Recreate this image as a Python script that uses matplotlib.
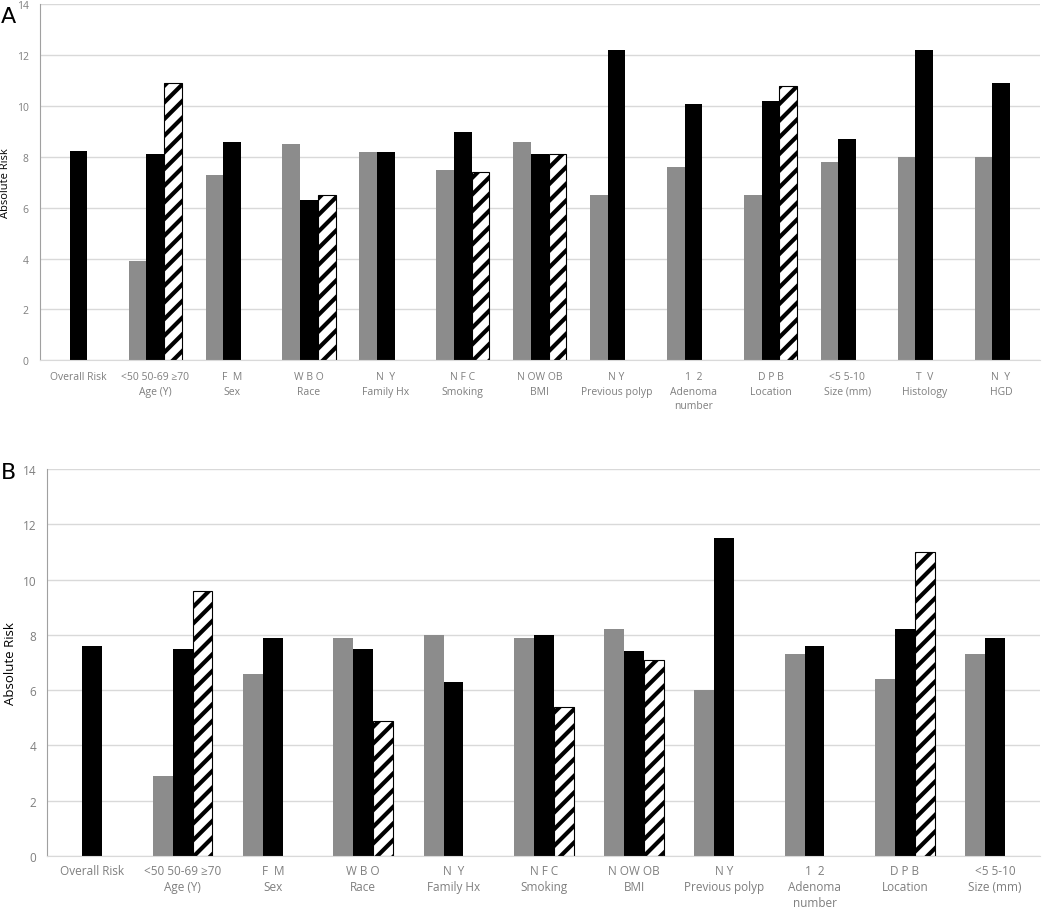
import matplotlib.pyplot as plt
import numpy as np

plt.rcParams['font.family'] = ['Open Sans', 'DejaVu Sans']
plt.rcParams['hatch.linewidth'] = 3.0

# --- Panel A data ---
cats_a = ["Overall Risk", "<50 50-69 ≥70\nAge (Y)", "F  M\nSex", "W B O\nRace",
          "N  Y\nFamily Hx", "N F C\nSmoking", "N OW OB\nBMI", "N Y\nPrevious polyp",
          "1  2\nAdenoma\nnumber", "D P B\nLocation", "<5 5-10\nSize (mm)",
          "T  V\nHistology", "N  Y\nHGD"]
gray_a = [np.nan, 3.9, 7.3, 8.5, 8.2, 7.5, 8.6, 6.5, 7.6, 6.5, 7.8, 8.0, 8.0]
black_a = [8.25, 8.1, 8.6, 6.3, 8.2, 9.0, 8.1, 12.2, 10.1, 10.2, 8.7, 12.2, 10.9]
hatch_a = [np.nan, 10.9, np.nan, 6.5, np.nan, 7.4, 8.1, np.nan, np.nan, 10.8, np.nan, np.nan, np.nan]

# --- Panel B data ---
cats_b = cats_a[:11]
gray_b = [np.nan, 2.9, 6.6, 7.9, 8.0, 7.9, 8.2, 6.0, 7.3, 6.4, 7.3]
black_b = [7.6, 7.5, 7.9, 7.5, 6.3, 8.0, 7.4, 11.5, 7.6, 8.2, 7.9]
hatch_b = [np.nan, 9.6, np.nan, 4.9, np.nan, 5.4, 7.1, np.nan, np.nan, 11.0, np.nan]

GRAY = "#8c8c8c"
TXT = "#7f7f7f"


def draw(ax, cats, gray, black, hatch, width, fs_tick, fs_lab, ls, pad):
    x = np.arange(len(cats))
    ax.bar(x - width, gray, width, color=GRAY)
    ax.bar(x, black, width, color="black")
    ax.bar(x + width, hatch, width, color="white", edgecolor="black",
           hatch="//", linewidth=0.8)
    ax.set_xlim(-0.5, len(cats) - 0.5)
    ax.set_ylim(0, 14)
    ax.set_yticks(range(0, 15, 2))
    ax.yaxis.grid(True, color="#d9d9d9", linewidth=1)
    ax.set_axisbelow(True)
    ax.set_xticks(x)
    ax.set_xticklabels(cats, fontsize=fs_tick, color=TXT, linespacing=ls)
    ax.tick_params(axis="y", labelsize=fs_tick, labelcolor=TXT, length=0, pad=8)
    ax.tick_params(axis="x", length=0, pad=pad)
    for s in ["top", "right"]:
        ax.spines[s].set_visible(False)
    ax.spines["left"].set_color("#a0a0a0")
    ax.spines["bottom"].set_color("#d9d9d9")
    ax.set_ylabel("Absolute Risk", fontsize=fs_lab, labelpad=4)


fig = plt.figure(figsize=(10.5, 9.12), dpi=100)
ax_a = fig.add_axes([0.038, 0.604, 0.952, 0.390])
ax_b = fig.add_axes([0.045, 0.0603, 0.9457, 0.4243])

draw(ax_a, cats_a, gray_a, black_a, hatch_a, 0.23, 7.5, 8, 1.45, 8)
draw(ax_b, cats_b, gray_b, black_b, hatch_b, 0.22, 8.5, 9.5, 1.3, 6)

fig.text(0.001, 0.975, "A", fontsize=16, family="DejaVu Sans")
fig.text(0.001, 0.475, "B", fontsize=16, family="DejaVu Sans")

fig.savefig("out.png", dpi=100)
